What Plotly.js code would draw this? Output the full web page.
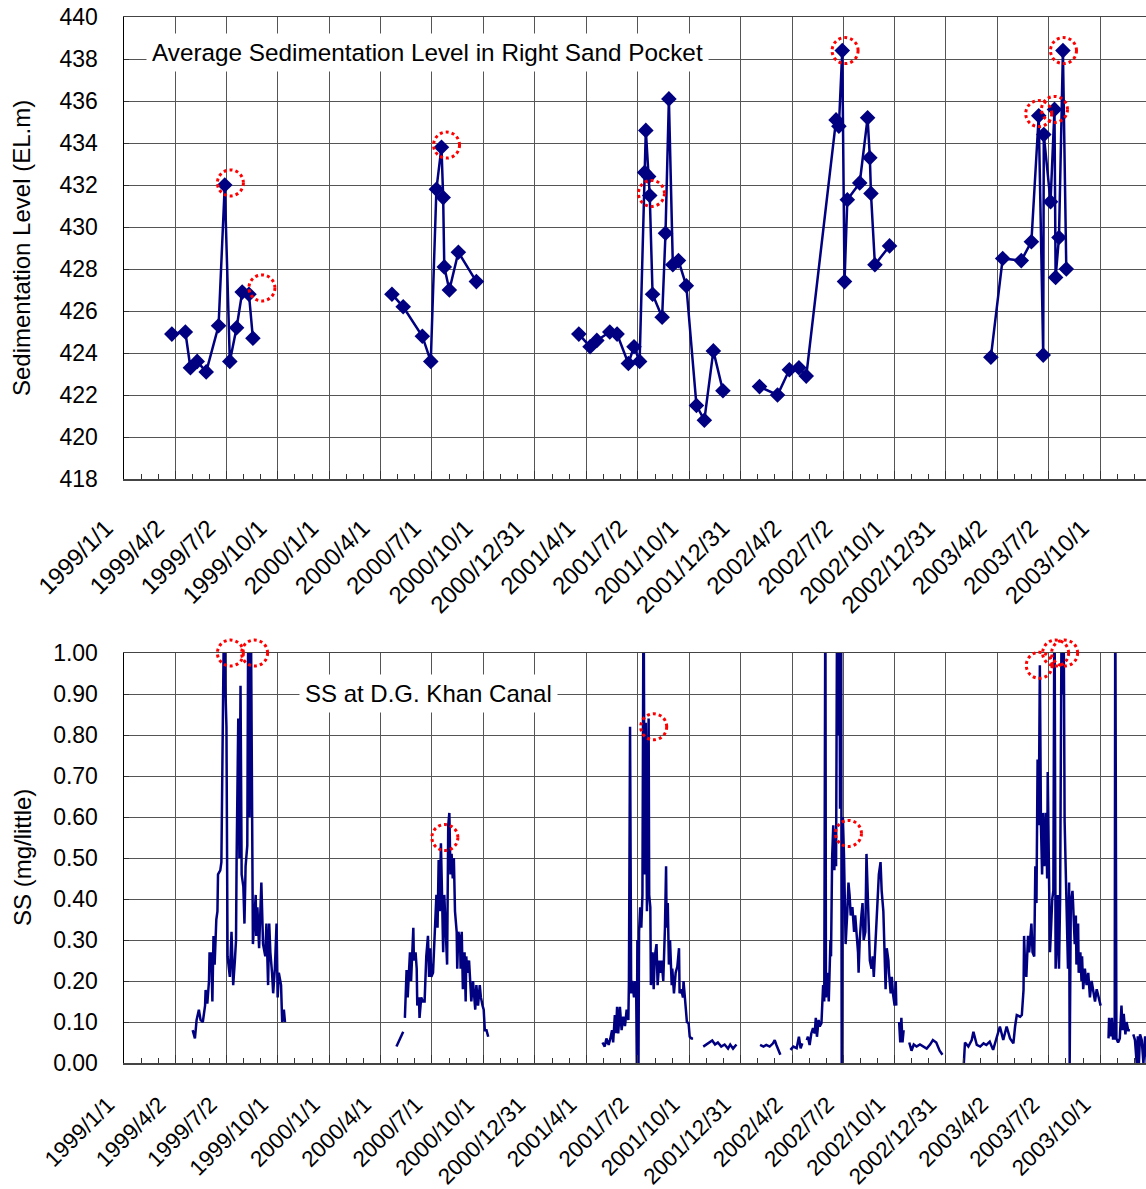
<!DOCTYPE html>
<html>
<head>
<meta charset="utf-8">
<script src="https://cdn.plot.ly/plotly-3.0.1.min.js"></script>
<style>
html,body{margin:0;padding:0;background:#fff;}
#chart{width:1146px;height:1189px;}
</style>
</head>
<body>
<div id="chart"></div>
<script>
// ---------- tick labels ----------
const tickLabels = ['1999/1/1','1999/4/2','1999/7/2','1999/10/1','2000/1/1','2000/4/1','2000/7/1','2000/10/1','2000/12/31',
  '2001/4/1','2001/7/2','2001/10/1','2001/12/31','2002/4/2','2002/7/2','2002/10/1','2002/12/31','2003/4/2','2003/7/2','2003/10/1'];
const extraGridDate = '2003/12/31';

// ---------- Average sedimentation level (EL.m) ----------
const sedDates = [
  '1999-03-27','1999-04-20','1999-04-29','1999-05-11','1999-05-27','1999-06-18','1999-06-29','1999-07-08','1999-07-20','1999-07-30','1999-08-11','1999-08-18', null,
  '2000-04-21','2000-05-11','2000-06-14','2000-06-29','2000-07-09','2000-07-18','2000-07-21','2000-07-23','2000-08-01','2000-08-17','2000-09-18', null,
  '2001-03-19','2001-04-08','2001-04-20','2001-05-13','2001-05-26','2001-06-15','2001-06-25','2001-07-05','2001-07-14','2001-07-16','2001-07-21','2001-07-23','2001-07-28','2001-08-14','2001-08-20','2001-08-26','2001-09-02','2001-09-12','2001-09-26','2001-10-14','2001-10-28','2001-11-13','2001-11-30', null,
  '2002-02-03','2002-03-07','2002-03-28','2002-04-14','2002-04-27','2002-06-19','2002-06-24','2002-06-30','2002-07-04','2002-07-09','2002-07-31','2002-08-14','2002-08-18','2002-08-20','2002-08-27','2002-09-22', null,
  '2003-03-21','2003-04-11','2003-05-14','2003-06-01','2003-06-14','2003-06-22','2003-06-23','2003-07-05','2003-07-12','2003-07-14','2003-07-20','2003-07-27','2003-08-02'
];
const sedLevels = [
  424.9,425.0,423.3,423.6,423.1,425.3,432.0,423.6,425.2,426.9,426.8,424.7, null,
  426.8,426.2,424.8,423.6,431.8,433.8,431.4,428.1,427.0,428.8,427.4, null,
  424.9,424.3,424.6,425.0,424.9,423.5,424.3,423.6,432.6,434.6,432.4,431.5,426.8,425.7,429.7,436.1,428.2,428.4,427.2,421.5,420.8,424.1,422.2, null,
  422.4,422.0,423.2,423.3,422.9,435.1,434.8,438.4,427.4,431.3,432.1,435.2,433.3,431.6,428.2,429.1, null,
  423.8,428.5,428.4,429.3,435.3,423.9,434.4,431.2,435.6,427.6,429.5,438.4,428.0
];
const sedCircleDates = ['1999-07-09','1999-09-03','2000-07-27','2001-07-26','2002-07-05','2003-06-14','2003-07-12','2003-07-28'];
const sedCircleLevels = [432.1,427.1,433.9,431.6,438.4,435.4,435.6,438.4];

// ---------- SS at D.G. Khan Canal (mg/little) ----------
const ss1999Dates = ['1999-05-03','1999-05-07','1999-05-10','1999-05-14','1999-05-17','1999-05-21','1999-05-25','1999-05-26','1999-05-29','1999-06-01','1999-06-02','1999-06-04','1999-06-05','1999-06-07','1999-06-09','1999-06-11','1999-06-14','1999-06-16','1999-06-17','1999-06-21','1999-06-23','1999-06-25','1999-06-27','1999-06-28','1999-06-30','1999-07-02','1999-07-04','1999-07-08','1999-07-11','1999-07-14','1999-07-17','1999-07-19','1999-07-20','1999-07-23','1999-07-25','1999-07-27','1999-07-29','1999-08-01','1999-08-03','1999-08-05','1999-08-08','1999-08-10','1999-08-12','1999-08-14','1999-08-18','1999-08-23','1999-08-24','1999-08-26','1999-08-29','1999-09-02','1999-09-05','1999-09-09','1999-09-11','1999-09-14','1999-09-16','1999-09-18','1999-09-21','1999-09-23','1999-09-26','1999-09-29','1999-10-01','1999-10-03','1999-10-07','1999-10-09','1999-10-12','1999-10-14'];
const ss1999Values = [0.08,0.06,0.105,0.13,0.105,0.10,0.14,0.178,0.145,0.20,0.27,0.23,0.27,0.15,0.31,0.24,0.35,0.37,0.46,0.47,0.49,0.79,0.94,1.15,0.92,0.82,0.26,0.21,0.32,0.19,0.25,0.30,0.49,0.84,0.50,0.92,0.46,0.43,0.34,0.48,0.53,1.2,0.60,1.2,0.29,0.41,0.31,0.38,0.28,0.44,0.29,0.26,0.34,0.19,0.34,0.27,0.22,0.17,0.23,0.34,0.16,0.22,0.19,0.10,0.13,0.10];

const ss2000Dates = ['2000-04-29','2000-05-05','2000-05-11', null,'2000-05-14','2000-05-17','2000-05-19','2000-05-21','2000-05-23','2000-05-25','2000-05-27','2000-05-29','2000-05-30','2000-06-02','2000-06-04','2000-06-05','2000-06-08','2000-06-09','2000-06-12','2000-06-15','2000-06-18','2000-06-21','2000-06-24','2000-06-26','2000-06-28','2000-06-30','2000-07-03','2000-07-06','2000-07-09','2000-07-11','2000-07-13','2000-07-15','2000-07-17','2000-07-19','2000-07-21','2000-07-23','2000-07-25','2000-07-28','2000-07-30','2000-08-01','2000-08-03','2000-08-05','2000-08-07','2000-08-09','2000-08-11','2000-08-14','2000-08-15','2000-08-17','2000-08-20','2000-08-21','2000-08-23','2000-08-25','2000-08-28','2000-08-30','2000-08-31','2000-09-02','2000-09-05','2000-09-07','2000-09-09','2000-09-12','2000-09-14','2000-09-16','2000-09-18','2000-09-21','2000-09-24','2000-09-26','2000-09-29','2000-10-01','2000-10-03','2000-10-06','2000-10-09'];
const ss2000Values = [0.04,0.06,0.076, null,0.11,0.227,0.16,0.22,0.27,0.20,0.29,0.33,0.25,0.27,0.23,0.14,0.16,0.11,0.16,0.15,0.15,0.26,0.31,0.21,0.28,0.21,0.22,0.30,0.41,0.33,0.495,0.37,0.536,0.41,0.27,0.41,0.32,0.24,0.58,0.61,0.46,0.51,0.45,0.50,0.37,0.32,0.23,0.32,0.30,0.23,0.32,0.18,0.27,0.15,0.26,0.22,0.25,0.18,0.15,0.20,0.17,0.13,0.19,0.14,0.19,0.16,0.14,0.13,0.08,0.08,0.064];

const ss2001Dates = ['2001-04-30','2001-05-04','2001-05-07','2001-05-11','2001-05-14','2001-05-17','2001-05-19','2001-05-22','2001-05-24','2001-05-26','2001-05-28','2001-05-31','2001-06-03','2001-06-06','2001-06-09','2001-06-12','2001-06-15','2001-06-16','2001-06-18','2001-06-20','2001-06-22','2001-06-25','2001-06-27','2001-06-29','2001-06-30','2001-07-01','2001-07-03','2001-07-04','2001-07-06','2001-07-08','2001-07-10','2001-07-12','2001-07-14','2001-07-16','2001-07-18','2001-07-19','2001-07-21','2001-07-22','2001-07-24','2001-07-25','2001-07-28','2001-07-30','2001-08-01','2001-08-04','2001-08-06','2001-08-09','2001-08-11','2001-08-13','2001-08-16','2001-08-19','2001-08-21','2001-08-22','2001-08-24','2001-08-26','2001-08-28','2001-08-31','2001-09-01','2001-09-04','2001-09-07','2001-09-10','2001-09-13','2001-09-14','2001-09-17','2001-09-20','2001-09-21','2001-09-24','2001-09-27','2001-09-30','2001-10-02','2001-10-05','2001-10-08', null,
  '2001-10-26','2001-11-01','2001-11-07','2001-11-11','2001-11-16','2001-11-21','2001-11-27','2001-12-03','2001-12-09','2001-12-13','2001-12-18','2001-12-24'];
const ss2001Values = [0.05,0.04,0.06,0.044,0.06,0.08,0.05,0.117,0.073,0.137,0.072,0.137,0.08,0.113,0.09,0.13,0.105,0.20,0.82,0.17,0.20,0.16,0.20,0.16,0.0,0.30,0.0,0.32,0.38,0.33,0.41,1.2,0.46,0.83,0.37,0.46,0.84,0.41,0.38,0.19,0.27,0.18,0.26,0.29,0.19,0.25,0.22,0.25,0.20,0.33,0.48,0.33,0.39,0.24,0.30,0.19,0.23,0.17,0.22,0.235,0.28,0.17,0.18,0.16,0.20,0.14,0.10,0.097,0.064,0.06,0.06, null,
  0.04,0.045,0.05,0.055,0.045,0.05,0.04,0.045,0.035,0.045,0.035,0.045];

const ss2002Dates = ['2002-02-04','2002-02-10','2002-02-15','2002-02-21','2002-02-27','2002-03-02','2002-03-05','2002-03-08','2002-03-12', null,
  '2002-03-30','2002-04-04','2002-04-10','2002-04-14','2002-04-17','2002-04-20', null,
  '2002-04-28','2002-04-30','2002-05-03','2002-05-06','2002-05-09','2002-05-12','2002-05-14','2002-05-16','2002-05-19','2002-05-21','2002-05-24','2002-05-25','2002-05-27','2002-05-29','2002-05-31','2002-06-01','2002-06-04','2002-06-06','2002-06-09','2002-06-10','2002-06-12','2002-06-14','2002-06-16','2002-06-17','2002-06-19','2002-06-21','2002-06-23','2002-06-25','2002-06-26','2002-06-28','2002-06-29','2002-07-01','2002-07-03','2002-07-05','2002-07-06','2002-07-09','2002-07-11','2002-07-13','2002-07-15','2002-07-18','2002-07-21','2002-07-23','2002-07-25','2002-07-28','2002-07-29','2002-07-31','2002-08-03','2002-08-05','2002-08-07','2002-08-10','2002-08-12','2002-08-14','2002-08-16','2002-08-18','2002-08-21','2002-08-23','2002-08-25','2002-08-27','2002-08-30','2002-09-01','2002-09-03','2002-09-06','2002-09-08','2002-09-11','2002-09-13','2002-09-15','2002-09-17','2002-09-20','2002-09-21','2002-09-24','2002-09-26','2002-09-28','2002-10-01','2002-10-03','2002-10-04', null,
  '2002-10-09','2002-10-11','2002-10-13','2002-10-15','2002-10-17', null,
  '2002-10-27','2002-10-31','2002-11-04','2002-11-09','2002-11-15','2002-11-21','2002-11-27','2002-12-03','2002-12-08','2002-12-14','2002-12-20','2002-12-25'];
const ss2002Values = [0.044,0.04,0.044,0.04,0.048,0.056,0.044,0.032,0.02, null,
  0.032,0.04,0.036,0.064,0.036,0.048, null,
  0.056,0.064,0.044,0.072,0.085,0.072,0.11,0.064,0.105,0.089,0.097,0.13,0.19,0.15,1.2,0.16,0.22,0.15,0.30,0.26,0.50,0.58,0.47,0.57,0.48,1.2,0.80,1.2,0.62,1.2,0.0,0.60,0.51,0.37,0.29,0.37,0.44,0.41,0.36,0.38,0.32,0.36,0.33,0.27,0.22,0.30,0.36,0.39,0.30,0.32,0.51,0.41,0.36,0.25,0.23,0.26,0.21,0.26,0.33,0.41,0.46,0.49,0.42,0.37,0.29,0.18,0.28,0.25,0.22,0.17,0.21,0.17,0.14,0.20,0.14, null,
  0.10,0.05,0.11,0.05,0.08, null,
  0.05,0.03,0.045,0.04,0.045,0.04,0.035,0.045,0.056,0.05,0.03,0.02];

const ss2003Dates = ['2003-02-01','2003-02-03','2003-02-09','2003-02-15','2003-02-18','2003-02-24','2003-03-02','2003-03-08','2003-03-13','2003-03-19','2003-03-25','2003-03-31','2003-04-06','2003-04-12','2003-04-18','2003-04-24','2003-04-30','2003-05-03','2003-05-06','2003-05-12','2003-05-15','2003-05-18','2003-05-19','2003-05-21','2003-05-23','2003-05-26','2003-05-28','2003-06-01','2003-06-03','2003-06-06','2003-06-08','2003-06-10','2003-06-12','2003-06-14','2003-06-16','2003-06-18','2003-06-20','2003-06-22','2003-06-24','2003-06-27','2003-06-29','2003-06-30','2003-07-02','2003-07-04','2003-07-06','2003-07-08','2003-07-10','2003-07-12','2003-07-14','2003-07-16','2003-07-18','2003-07-20','2003-07-22','2003-07-25','2003-07-26','2003-07-28','2003-07-30','2003-08-03','2003-08-05','2003-08-07','2003-08-08','2003-08-10','2003-08-13','2003-08-14','2003-08-17','2003-08-19','2003-08-20','2003-08-23','2003-08-24','2003-08-27','2003-08-29','2003-08-30','2003-09-01','2003-09-04','2003-09-07','2003-09-10','2003-09-13','2003-09-16','2003-09-19','2003-09-22','2003-09-25','2003-09-28','2003-10-02', null,
  '2003-10-16','2003-10-17','2003-10-20','2003-10-22','2003-10-24','2003-10-27','2003-10-28','2003-10-30','2003-11-02','2003-11-05','2003-11-08','2003-11-10','2003-11-12','2003-11-15','2003-11-17','2003-11-20','2003-11-23', null,
  '2003-11-29','2003-12-02','2003-12-05','2003-12-07','2003-12-09','2003-12-11','2003-12-14','2003-12-17','2003-12-20','2003-12-23'];
const ss2003Values = [0.0,0.05,0.04,0.056,0.076,0.044,0.04,0.048,0.044,0.052,0.032,0.06,0.089,0.056,0.089,0.06,0.048,0.089,0.117,0.113,0.117,0.178,0.31,0.23,0.21,0.31,0.27,0.34,0.27,0.26,0.48,0.39,0.74,0.58,0.97,0.58,0.46,0.61,0.48,0.61,0.45,0.71,0.41,0.27,0.33,0.40,0.42,1.2,0.23,0.29,0.41,0.23,0.40,1.2,0.9,1.2,0.59,0.31,0.23,0.44,0.0,0.39,0.42,0.39,0.29,0.36,0.24,0.34,0.22,0.27,0.20,0.26,0.18,0.23,0.19,0.22,0.16,0.20,0.17,0.15,0.18,0.16,0.14, null,
  0.06,0.11,0.065,0.11,0.06,0.06,1.2,0.06,0.05,0.06,0.14,0.08,0.12,0.07,0.10,0.08,0.08, null,
  0.07,0.056,0.0,0.065,0.0,0.07,0.056,0.0,0.065,0.0];

const ssCircleDates = ['1999-07-09','1999-08-21','2000-07-24','2001-07-30','2002-07-11','2003-06-15','2003-07-14','2003-07-30'];
const ssCircleValues = [1.0,1.0,0.55,0.82,0.56,0.97,1.0,1.0];

// ---------- assemble ----------
const ssDates = [].concat(ss1999Dates,[null],ss2000Dates,[null],ss2001Dates,[null],ss2002Dates,[null],ss2003Dates);
const ssValues = [].concat(ss1999Values,[null],ss2000Values,[null],ss2001Values,[null],ss2002Values,[null],ss2003Values);

const W = 1146, H = 1189;
const FONT = '"Liberation Sans", Arial, sans-serif';
const NAVY = '#000080';

const majorVals = tickLabels.concat([extraGridDate]).map(s => s.replace(/\//g,'-'));
const majorText = tickLabels.concat(['']);
function toMs(s){ const p = s.split('-').map(Number); return Date.UTC(p[0], p[1]-1, p[2]); }
function fmt(ms){ return new Date(ms).toISOString().slice(0,19).replace('T',' '); }
const minorVals = [];
for (let i = 0; i < majorVals.length - 1; i++) {
  const a = toMs(majorVals[i]), b = toMs(majorVals[i+1]);
  minorVals.push(fmt(a + (b-a)/3), fmt(a + 2*(b-a)/3));
}

const xCommon = {
  type:'date', range:['1999-01-01','2003-12-21 14:00'],
  tickmode:'array', tickvals:majorVals, ticktext:majorText,
  tickangle:-45, tickfont:{family:FONT, size:24, color:'#000'},
  ticks:'inside', ticklen:8, tickcolor:'#333', tickwidth:1,
  ticklabelstandoff:24, ticklabelshift:-18,
  showgrid:true, gridcolor:'#555', gridwidth:1,
  showline:true, linecolor:'#444', linewidth:1.5, mirror:true,
  zeroline:false, fixedrange:true,
  minor:{tickmode:'array', tickvals:minorVals, ticks:'inside', ticklen:5, tickcolor:'#333', tickwidth:1, showgrid:false}
};
const yCommon = {
  showgrid:true, gridcolor:'#555', gridwidth:1,
  showline:true, linecolor:'#000', linewidth:1.5, mirror:false,
  ticks:'inside', ticklen:5, tickcolor:'#333',
  tickfont:{family:FONT, size:23, color:'#000'},
  ticklabelstandoff:20, zeroline:false, fixedrange:true
};

const traces = [
  {x:sedDates, y:sedLevels, xaxis:'x', yaxis:'y', type:'scatter', mode:'lines+markers', connectgaps:false,
   line:{color:NAVY, width:2.5}, marker:{symbol:'diamond', size:12, color:NAVY}, hoverinfo:'skip'},
  {x:ssDates, y:ssValues, xaxis:'x2', yaxis:'y2', type:'scatter', mode:'lines', connectgaps:false,
   line:{color:NAVY, width:2.5}, hoverinfo:'skip'}
];

const layout = {
  width:W, height:H, margin:{l:124, r:0, t:0, b:0},
  paper_bgcolor:'#fff', plot_bgcolor:'#fff', showlegend:false,
  font:{family:FONT, color:'#000', size:23},
  xaxis:Object.assign({}, xCommon, {anchor:'y', domain:[0,1]}),
  yaxis:Object.assign({}, yCommon, {anchor:'x', domain:[1-479/H, 1-17/H], range:[418,440], tick0:418, dtick:2}),
  xaxis2:Object.assign({}, xCommon, {anchor:'y2', domain:[0,1], ticklabelstandoff:18, ticklabelshift:-16,
    tickfont:{family:FONT, size:22.5, color:'#000'}}),
  yaxis2:Object.assign({}, yCommon, {anchor:'x2', domain:[1-1063/H, 1-653/H], range:[0,1], tick0:0, dtick:0.1, tickformat:'.2f'}),
  annotations:[
    {text:'Average Sedimentation Level in Right Sand Pocket', xref:'paper', yref:'paper',
     x:(427.5-124)/1022, y:1-52/H, xanchor:'center', yanchor:'middle', showarrow:false,
     bgcolor:'#fff', borderpad:5, font:{family:FONT, size:24.3, color:'#000'}},
    {text:'SS at D.G. Khan Canal', xref:'paper', yref:'paper',
     x:(428-124)/1022, y:1-693/H, xanchor:'center', yanchor:'middle', showarrow:false,
     bgcolor:'#fff', borderpad:5, font:{family:FONT, size:24, color:'#000'}},
    {text:'Sedimentation Level (EL.m)', xref:'paper', yref:'paper',
     x:(22-124)/1022, y:1-248/H, xanchor:'center', yanchor:'middle', textangle:-90, showarrow:false,
     font:{family:FONT, size:24, color:'#000'}},
    {text:'SS (mg/little)', xref:'paper', yref:'paper',
     x:(22-124)/1022, y:1-858/H, xanchor:'center', yanchor:'middle', textangle:-90, showarrow:false,
     font:{family:FONT, size:24, color:'#000'}}
  ]
};

const gd = document.getElementById('chart');
Plotly.newPlot(gd, traces, layout, {displayModeBar:false, staticPlot:true}).then(function(){
  const fl = gd._fullLayout, sz = fl._size;
  function circle(xa, ya, d, v){
    const px = xa._offset + xa.l2p(xa.d2l(d));
    const py = ya._offset + ya.l2p(ya.d2l(v));
    return {type:'circle', xref:'paper', yref:'paper', xsizemode:'pixel', ysizemode:'pixel',
      xanchor:(px - sz.l)/sz.w, yanchor:1 - (py - sz.t)/sz.h,
      x0:-13, x1:13, y0:-13, y1:13,
      line:{color:'#ff0000', width:3, dash:'dot'}, fillcolor:'rgba(0,0,0,0)'};
  }
  const shapes = [];
  sedCircleDates.forEach((d,i) => shapes.push(circle(fl.xaxis, fl.yaxis, d, sedCircleLevels[i])));
  ssCircleDates.forEach((d,i) => shapes.push(circle(fl.xaxis2, fl.yaxis2, d, ssCircleValues[i])));
  return Plotly.relayout(gd, {shapes:shapes});
});
</script>
</body>
</html>
